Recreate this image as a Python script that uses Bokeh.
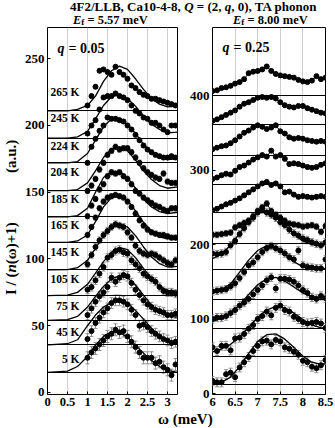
import math
from bokeh.plotting import figure
from bokeh.models import (Range1d, Label, Whisker, TeeHead, ColumnDataSource,
                          FixedTicker, Div, CustomJSTickFormatter)
from bokeh.layouts import row, column
from bokeh.embed import file_html
from bokeh.resources import INLINE

SERIF = "Liberation Serif"

# ---------------- texts ----------------
title_text = "4F2/LLB, Ca10-4-8, <i>Q</i> = (2, <i>q</i>, 0), TA phonon"
ef_left = "5.57 meV"
ef_right = "8.00 meV"
q_left = "0.05"
q_right = "0.25"
xlabel_text = "\u03c9 (meV)"

# ---------------- left panel: q = 0.05, Ef = 5.57 meV ----------------
temps_left = ["5 K", "45 K", "75 K", "105 K", "145 K", "165 K", "185 K", "204 K", "224 K", "245 K", "265 K"]
base_left = [14.7, 35.7, 53.9, 72.6, 91.8, 112.5, 131.5, 151.2, 172.0, 190.6, 211.0]
label_y_left = [25.2, 45.1, 65.1, 85.0, 105.0, 125.5, 145.0, 164.9, 184.9, 205.7, 224.8]
err_left = [4.5, 4.0, 3.5, 3.0, 2.5, 2.0, 2.0, 2.0, 1.5, 1.5, 1.5]

w_left = [1.0, 1.1, 1.2, 1.3, 1.4, 1.5, 1.6, 1.7, 1.8, 1.9, 2.0, 2.1, 2.2, 2.3,
          2.4, 2.5, 2.6, 2.7, 2.8, 2.9, 3.0, 3.1, 3.2]
I_5K = [26, 30, 33, 36, 39, 42, 44, 47, 45, 46, 42, 38, 34, 30, 26, 26, 26, 22, 23, 19, 17, 13, 21]
I_45K = [40, 46, 52, 56, 60, 63, 67, 69, 69, 68, 66, 62, 58, 50, 51, 49, 46, 44, 42, 40, 39, 37, 38]
I_75K = [58, 63, 68, 72, 75, 79, 86, 83, 86, 88, 87, 82, 77, 73, 69, 66, 64, 62, 61, 60, 58, 58, 59]
I_105K = [77, 79, 84, 89, 94, 101, 103, 106, 107, 105, 104, 99, 96, 93, 89, 87, 85, 83, 79, 76, 75, 75, 74]
I_145K = [96, 103, 109, 114, 118, 121, 124, 126, 125, 124, 120, 116, 110, 106, 104, 103, 104, 103, 101, 99, 97, 96, 99]
I_165K = [118, 124, 131, 138, 143, 146, 147, 148, 147, 146, 143, 139, 134, 129, 125, 122, 120, 119, 118, 118, 117, 116, 116]
I_185K = [132, 140, 145, 152, 156, 162, 165, 164, 165, 162, 160, 156, 151, 149, 146, 144, 142, 140, 139, 137, 136, 138, 138]
I_204K = [151, 155, 160, 167, 172, 178, 181, 184, 182, 183, 183, 180, 176, 172, 168, 165, 163, 161, 160, 164, 158, 157, 157]
I_224K = [172, 184, 190, 196, 200, 206, 205, 205, 204, 203, 200, 197, 193, 189, 185, 182, 180, 178, 177, 176, 176, 177, 176]
I_245K = [194, 200, 204, 212, 221, 222, 222, 224, 222, 221, 219, 215, 211, 209, 206, 205, 202, 202, 200, 197, 195, 200, 200]
I_265K = [215, 222, 229, 241, 242, 240, 238, 244, 240, 238, 235, 230, 228, 225, 223, 222, 220, 220, 219, 218, 217, 216, 215]
I_left = [I_5K, I_45K, I_75K, I_105K, I_145K, I_165K, I_185K, I_204K, I_224K, I_245K, I_265K]

wfit_left = [0, 0.5, 0.75, 1.0, 1.2, 1.4, 1.6, 1.8, 2.0, 2.2, 2.4, 2.6, 2.8, 3.0, 3.25]
fit_5K = [15, 16, 19.5, 27, 35.5, 42, 45.5, 45, 41.5, 35.5, 29.5, 24, 19.5, 16.5, 15]
fit_45K = [35.7, 36.5, 39.5, 50, 58, 64, 67.5, 69, 67, 61.5, 55, 48, 42.5, 39, 37.5]
fit_75K = [54, 54.5, 57, 64, 72, 79.5, 85, 87.5, 86, 80.5, 73, 65.5, 60, 57, 56.5]
fit_105K = [72.6, 73, 75, 81, 89.5, 98, 105, 108.5, 107, 101, 93, 85.5, 79.5, 76.5, 76]
fit_145K = [91.8, 92, 93.5, 99, 108, 117.5, 123.5, 126, 124, 117.5, 109, 101.5, 96.5, 94, 94.5]
fit_165K = [112.5, 112.5, 113.5, 118, 128, 139, 146, 147.5, 144, 136, 127.5, 121, 116.5, 115, 116]
fit_185K = [131.5, 131.5, 132.5, 138, 150, 161, 165.5, 165.5, 161, 153, 145, 139, 135.5, 134, 135]
fit_204K = [151.2, 151.2, 152, 157, 166, 176, 182.5, 184, 181, 174, 166, 159.5, 155, 153, 154]
fit_224K = [172, 172, 173, 179, 189, 199, 205, 205.5, 201, 194, 186, 180, 176, 174.5, 175]
fit_245K = [190.6, 190.6, 191.5, 195.5, 205, 215, 221.5, 223.5, 220, 214.5, 207, 201, 197, 194.5, 195]
fit_265K = [211, 211, 212, 215, 222, 233, 241, 244.5, 242, 235, 227, 220, 216, 214, 214.5]
fit_left = [fit_5K, fit_45K, fit_75K, fit_105K, fit_145K, fit_165K, fit_185K, fit_204K, fit_224K, fit_245K, fit_265K]

xticks_left = [0, 0.5, 1, 1.5, 2, 2.5, 3]
yticks_left = [0, 50, 100, 150, 200, 250]

# ---------------- right panel: q = 0.25, Ef = 8.00 meV ----------------
base_right = [12, 50, 87, 126, 166, 201, 242.5, 280, 320, 361, 400]
err_right = [6, 6, 5.5, 5, 5, 4, 2.5, 2.5, 2, 2, 2]
w_right = [6.0, 6.1, 6.2, 6.3, 6.4, 6.5, 6.6, 6.7, 6.8, 6.9, 7.0, 7.1, 7.2, 7.3,
           7.4, 7.5, 7.6, 7.7, 7.8, 7.9, 8.0, 8.1, 8.2, 8.3, 8.4, 8.5]
R1 = [17, 15, 15, 26, 28, 22, 35, 42, 49, 57, 64, 70, 71, 66, 72, 70, 62, 60, 56, 52, 44, 42, 36, 34, 38, 45]
R2 = [62, 57, 64, 64, 58, 74, 75, 80, 87, 92, 100, 104, 110, 105, 115, 118, 112, 110, 103, 100, 96, 94, 95, 96, 94, 88]
R3 = [100, 102, 102, 104, 108, 112, 118, 122, 127, 133, 139, 145, 152, 156, 141, 154, 154, 153, 150, 145, 139, 135, 129, 127, 131, 128]
R4 = [137, 138, 139, 140, 144, 148, 155, 163, 172, 176, 183, 190, 195, 198, 195, 192, 188, 183, 180, 192, 172, 170, 169, 168, 168, 180]
R5 = [188, 187, 188, 190, 199, 205, 214, 222, 230, 236, 243, 247, 243, 240, 236, 230, 226, 220, 215, 212, 208, 206, 203, 201, 199, 203]
R6 = [213, 213, 214, 215, 216, 223, 226, 229, 232, 238, 245, 250, 255, 245, 240, 236, 232, 228, 227, 226, 224, 225, 226, 224, 217, 225]
R7 = [246, 248, 251, 254, 256, 259, 262, 266, 270, 274, 278, 282, 284, 280, 282, 278, 270, 271, 267, 264, 265, 264, 263, 264, 265, 264]
R8 = [288, 290, 293, 295, 294, 299, 304, 306, 310, 314, 317, 320, 318, 326, 318, 320, 315, 308, 309, 308, 306, 304, 303, 304, 307, 309]
R9 = [328, 330, 332, 333, 336, 340, 345, 350, 353, 357, 360, 358, 355, 357, 360, 352, 349, 344, 342, 343, 342, 340, 339, 338, 339, 338]
R10 = [366, 368, 371, 374, 377, 380, 385, 389, 391, 394, 397, 398, 397, 398, 396, 391, 387, 385, 384, 386, 386, 383, 381, 379, 377, 376]
R11 = [406, 407, 410, 411, 413, 416, 418, 422, 430, 432, 433, 435, 439, 433, 429, 427, 426, 425, 424, 421, 419, 418, 420, 426, 422, 424]
I_right = [R1, R2, R3, R4, R5, R6, R7, R8, R9, R10, R11]

wfit_right = [6.0, 6.2, 6.4, 6.6, 6.8, 7.0, 7.2, 7.4, 7.6, 7.8, 8.0, 8.2, 8.4, 8.5]
fit_R1 = [13, 15, 22, 36, 54, 70, 79, 80, 73, 62, 50, 42, 39, 40]
fit_R2 = [56, 60, 66, 76, 89, 102, 112, 117, 115, 108, 99, 92, 88, 88]
fit_R3 = [97, 101, 108, 119, 133, 146, 154, 156, 151, 143, 135, 130, 128, 128]
fit_R4 = [136, 140, 147, 163, 179, 192, 198.5, 196, 187, 177, 170, 167, 167, 168]
fit_R5 = [181, 187, 199, 215, 231, 242, 245, 238, 226, 214, 205, 200, 199, 200]
fit_right = [fit_R1, fit_R2, fit_R3, fit_R4, fit_R5]

xticks_right = [6, 6.5, 7, 7.5, 8, 8.5]
yticks_right = [0, 100, 200, 300, 400]

GRID = "#cfcfcf"
ERR = "#8c8c8c"


def style(p, xt, yt):
    p.outline_line_color = "black"
    p.outline_line_width = 1
    p.background_fill_color = "white"
    p.border_fill_color = "white"
    fmt = CustomJSTickFormatter(code="return String(tick);")
    for ax, ticks, size in ((p.xaxis[0], xt, "12.5px"), (p.yaxis[0], yt, "13px")):
        ax.ticker = FixedTicker(ticks=ticks)
        ax.formatter = fmt
        ax.axis_line_color = None
        ax.major_tick_in = 3
        ax.major_tick_out = 0
        ax.minor_tick_line_color = None
        ax.major_tick_line_color = "black"
        ax.major_label_text_font = SERIF
        ax.major_label_text_font_style = "bold"
        ax.major_label_text_font_size = size
        ax.major_label_text_color = "black"
        ax.major_label_standoff = 3
    p.xgrid.ticker = FixedTicker(ticks=xt)
    p.xgrid.grid_line_color = GRID
    p.xgrid.grid_line_width = 1
    p.ygrid.grid_line_color = None


def draw_points(p, w, vals, err):
    src = ColumnDataSource(dict(x=w, y=vals,
                                lo=[v - err for v in vals],
                                hi=[v + err for v in vals]))
    p.add_layout(Whisker(source=src, base="x", lower="lo", upper="hi",
                         line_color=ERR, line_width=1,
                         upper_head=TeeHead(size=4, line_color=ERR, line_width=1),
                         lower_head=TeeHead(size=4, line_color=ERR, line_width=1)))
    p.scatter("x", "y", source=src, size=5, fill_color="black", line_color="black")


def lab(p, x, y, text, size="12px", style="bold", align="left", xoff=0):
    p.add_layout(Label(x=x, y=y, text=text, text_font=SERIF, text_font_style=style,
                       text_font_size=size, text_align=align, text_baseline="middle",
                       text_color="black", x_offset=xoff))


# ---------------- left figure ----------------
p1 = figure(frame_width=130, frame_height=367, min_border_left=27, min_border_right=1,
            min_border_top=1, min_border_bottom=18,
            x_range=Range1d(0, 3.25), y_range=Range1d(-1.5, 273.4),
            output_backend="svg", toolbar_location=None)
style(p1, xticks_left, yticks_left)
p1.hspan(y=base_left, line_color="black", line_width=1.2)
for k in range(len(temps_left)):
    p1.line(wfit_left, fit_left[k], line_color="black", line_width=1.3)
    draw_points(p1, w_left, I_left[k], err_left[k])
    lab(p1, 0.8, label_y_left[k], temps_left[k], size="11.5px", align="right")

lab(p1, 0.25, 257.5, "q", size="14px", style="bold italic")
lab(p1, 0.25, 257.5, "= " + q_left, size="14px", xoff=11)

# ---------------- right figure ----------------
p2 = figure(frame_width=113, frame_height=367, min_border_left=34, min_border_right=9,
            min_border_top=1, min_border_bottom=18,
            x_range=Range1d(6, 8.5), y_range=Range1d(-1.3, 491.3),
            output_backend="svg", toolbar_location=None)
style(p2, xticks_right, yticks_right)
p2.hspan(y=base_right, line_color="black", line_width=1.2)
for k in range(len(I_right)):
    if k < len(fit_right):
        p2.line(wfit_right, fit_right[k], line_color="black", line_width=1.3)
    else:
        p2.line(w_right, I_right[k], line_color="black", line_width=1)
    draw_points(p2, w_right, I_right[k], err_right[k])

lab(p2, 6.22, 464.8, "q", size="14px", style="bold italic")
lab(p2, 6.22, 464.8, "= " + q_right, size="14px", xoff=11)

# ---------------- texts outside the plot frames (HTML) ----------------
SUB = 'style="font-size:9px;vertical-align:-1px;line-height:0"'
header = Div(width=334, height=26, margin=(0, 0, 0, 0), text=(
    '<div style="position:relative;width:334px;height:26px;font-family:\'Liberation Serif\';'
    'font-weight:bold;color:black;">'
    '<span style="position:absolute;left:70px;top:0px;font-size:13px;line-height:13px;white-space:nowrap;">'
    + title_text + '</span>'
    '<span style="position:absolute;left:73px;top:14px;font-size:12.5px;line-height:12px;white-space:nowrap;">'
    '<i>E</i><sub ' + SUB + '>f</sub> = ' + ef_left + '</span>'
    '<span style="position:absolute;left:233px;top:14px;font-size:12.5px;line-height:12px;white-space:nowrap;">'
    '<i>E</i><sub ' + SUB + '>f</sub> = ' + ef_right + '</span>'
    '</div>'))

ylabel = Div(width=20, height=386, margin=(0, 0, 0, 0), text=(
    '<div style="position:relative;width:20px;height:386px;font-family:\'Liberation Serif\';'
    'font-weight:bold;font-size:15px;color:black;">'
    '<span style="position:absolute;left:3px;top:269px;transform-origin:0 0;'
    'transform:rotate(-90deg);white-space:nowrap;line-height:16px;">'
    'I / (<i>n</i>(\u03c9)+1)</span>'
    '<span style="position:absolute;left:3px;top:147px;transform-origin:0 0;'
    'transform:rotate(-90deg);white-space:nowrap;line-height:16px;">(a.u.)</span>'
    '</div>'))

footer = Div(width=334, height=15, margin=(0, 0, 0, 0), text=(
    '<div style="position:relative;width:334px;height:15px;font-family:\'Liberation Serif\';'
    'font-weight:bold;color:black;">'
    '<span style="position:absolute;left:158px;top:-1px;font-size:15px;line-height:16px;white-space:nowrap;">'
    + xlabel_text + '</span></div>'))

layout = column(header, row(ylabel, p1, p2), footer)
open("out.html", "w").write(file_html(layout, INLINE))
